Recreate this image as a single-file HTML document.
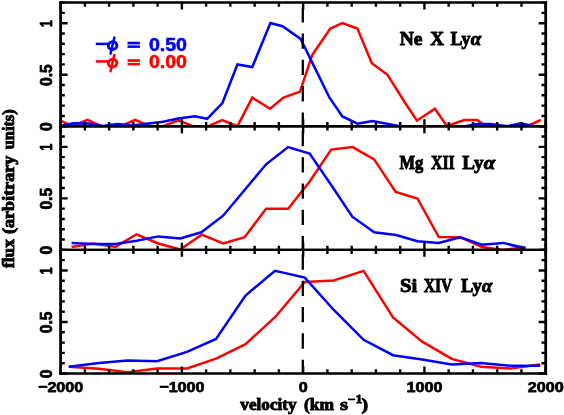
<!DOCTYPE html><html><head><meta charset="utf-8"><title>Line profiles</title>
<style>html,body{margin:0;padding:0;background:#fff;overflow:hidden;}svg{display:block;position:absolute;left:0;top:0;}text{font-family:"Liberation Sans",sans-serif;font-weight:bold;fill:#000;stroke:#000;stroke-width:0.5;stroke-linejoin:round;}.se{font-family:"Liberation Serif",serif;font-weight:bold;stroke-width:0.9;}</style></head><body>
<svg width="564" height="415" viewBox="0 0 564 415">
<rect width="564" height="415" fill="#fff"/>
<defs><filter id="sb" x="-5%" y="-5%" width="110%" height="110%"><feGaussianBlur stdDeviation="0.3"/></filter></defs>
<clipPath id="c0"><rect x="60.6" y="2.60" width="485.10" height="123.63"/></clipPath>
<clipPath id="c1"><rect x="60.6" y="126.23" width="485.10" height="123.63"/></clipPath>
<clipPath id="c2"><rect x="60.6" y="249.86" width="485.10" height="123.63"/></clipPath>
<g clip-path="url(#c0)">
<polyline points="60.6,120.5 72.0,126.2 87.5,119.9 101.5,126.2 121.0,126.2 135.1,119.9 150.0,126.2 163.3,126.2 178.3,120.4 193.0,126.2 208.5,126.2 222.1,120.2 237.4,126.2 252.3,97.6 270.0,108.8 283.5,97.5 300.0,91.6 312.2,55.0 330.3,28.6 342.4,23.1 357.4,28.6 371.8,63.3 387.5,74.8 405.2,103.0 417.0,120.6 435.0,108.8 446.8,126.0 464.4,120.0 477.1,120.0 486.0,126.2 527.0,126.2 541.0,120.0" fill="none" stroke="#ff0000" stroke-width="2.5" stroke-linejoin="miter" stroke-miterlimit="3" stroke-linecap="butt"/>
<polyline points="60.6,125.8 73.6,123.3 88.5,123.5 102.8,126.0 117.0,124.0 132.4,125.4 163.0,121.8 178.3,118.6 194.9,116.3 207.1,118.8 222.4,103.0 237.4,64.5 252.3,67.0 270.4,23.1 282.5,26.2 300.6,38.9 329.2,97.1 342.4,116.4 357.4,123.7 372.2,121.1 400.0,126.2 465.0,126.2 477.0,123.9 490.7,123.9 507.3,126.2 521.0,123.3 533.6,126.2 545.7,126.2" fill="none" stroke="#0000ff" stroke-width="2.5" stroke-linejoin="miter" stroke-miterlimit="3" stroke-linecap="butt"/>
<path d="M302.80,7.20V22.50M302.80,33.50V48.80M302.80,59.80V75.10M302.80,86.10V101.40M302.80,112.40V126.23" stroke="#000" stroke-width="2.3" fill="none"/>
</g>
<g clip-path="url(#c1)">
<polyline points="71.6,246.9 93.2,243.5 115.5,246.9 136.5,234.3 158.3,243.5 180.2,249.5 201.7,234.6 223.1,243.4 244.6,237.2 266.1,208.7 288.1,208.7 309.5,181.8 331.2,149.6 352.7,147.1 374.1,159.4 395.7,192.0 417.4,198.5 438.8,237.1 460.2,237.2 482.0,247.0 503.0,250.0 525.4,247.2" fill="none" stroke="#ff0000" stroke-width="2.5" stroke-linejoin="miter" stroke-miterlimit="3" stroke-linecap="butt"/>
<polyline points="71.6,243.0 93.3,244.0 115.2,244.0 136.7,240.8 158.3,236.4 180.2,238.5 201.3,232.3 223.1,215.7 244.6,190.0 266.1,164.3 288.1,147.1 309.6,153.5 331.2,185.0 352.3,216.7 374.2,232.3 396.1,235.0 417.5,241.3 438.7,243.0 460.1,237.4 482.0,244.7 503.0,242.9 525.4,248.3" fill="none" stroke="#0000ff" stroke-width="2.5" stroke-linejoin="miter" stroke-miterlimit="3" stroke-linecap="butt"/>
<path d="M302.80,130.83V146.13M302.80,157.13V172.43M302.80,183.43V198.73M302.80,209.73V225.03M302.80,236.03V249.86" stroke="#000" stroke-width="2.3" fill="none"/>
</g>
<g clip-path="url(#c2)">
<polyline points="68.8,366.7 99.0,368.8 127.5,372.3 157.0,368.4 187.0,368.4 216.0,358.6 245.5,344.1 275.0,317.2 304.8,281.9 333.8,280.5 363.6,270.9 393.0,317.4 422.2,341.7 451.7,358.9 481.0,366.7 510.2,368.6 540.2,364.4" fill="none" stroke="#ff0000" stroke-width="2.5" stroke-linejoin="miter" stroke-miterlimit="3" stroke-linecap="butt"/>
<polyline points="68.8,366.7 99.0,363.0 127.5,360.6 157.0,361.3 187.0,351.9 216.0,338.9 245.5,295.5 275.0,270.9 304.8,277.6 333.8,310.0 363.6,339.8 393.0,355.2 422.2,359.5 451.7,364.4 481.0,363.0 510.2,365.7 540.2,365.7" fill="none" stroke="#0000ff" stroke-width="2.5" stroke-linejoin="miter" stroke-miterlimit="3" stroke-linecap="butt"/>
<path d="M302.80,254.46V269.76M302.80,280.76V296.06M302.80,307.06V322.36M302.80,333.36V348.66M302.80,359.66V373.49" stroke="#000" stroke-width="2.3" fill="none"/>
</g>
<path d="M60.6,1.40V127.43M545.7,1.40V127.43" fill="none" stroke="#000" stroke-width="2.8"/>
<path d="M59.2,2.60H547.1M59.2,126.23H547.1" fill="none" stroke="#000" stroke-width="2.45"/>
<path d="M60.60,2.60v7.0M60.60,126.23v-7.0M84.86,2.60v4.2M84.86,126.23v-4.2M109.11,2.60v4.2M109.11,126.23v-4.2M133.37,2.60v4.2M133.37,126.23v-4.2M157.62,2.60v4.2M157.62,126.23v-4.2M181.88,2.60v7.0M181.88,126.23v-7.0M206.13,2.60v4.2M206.13,126.23v-4.2M230.38,2.60v4.2M230.38,126.23v-4.2M254.64,2.60v4.2M254.64,126.23v-4.2M278.90,2.60v4.2M278.90,126.23v-4.2M303.15,2.60v7.0M303.15,126.23v-7.0M327.41,2.60v4.2M327.41,126.23v-4.2M351.66,2.60v4.2M351.66,126.23v-4.2M375.92,2.60v4.2M375.92,126.23v-4.2M400.17,2.60v4.2M400.17,126.23v-4.2M424.43,2.60v7.0M424.43,126.23v-7.0M448.68,2.60v4.2M448.68,126.23v-4.2M472.94,2.60v4.2M472.94,126.23v-4.2M497.19,2.60v4.2M497.19,126.23v-4.2M521.45,2.60v4.2M521.45,126.23v-4.2M545.70,2.60v7.0M545.70,126.23v-7.0M60.6,126.23h7.0M545.7,126.23h-7.0M60.6,115.93h4.2M545.7,115.93h-4.2M60.6,105.62h4.2M545.7,105.62h-4.2M60.6,95.32h4.2M545.7,95.32h-4.2M60.6,85.02h4.2M545.7,85.02h-4.2M60.6,74.72h7.0M545.7,74.72h-7.0M60.6,64.41h4.2M545.7,64.41h-4.2M60.6,54.11h4.2M545.7,54.11h-4.2M60.6,43.81h4.2M545.7,43.81h-4.2M60.6,33.51h4.2M545.7,33.51h-4.2M60.6,23.20h7.0M545.7,23.20h-7.0M60.6,12.90h4.2M545.7,12.90h-4.2M60.6,2.60h4.2M545.7,2.60h-4.2" stroke="#000" stroke-width="2.4" fill="none"/>
<path d="M60.6,125.03V251.06M545.7,125.03V251.06" fill="none" stroke="#000" stroke-width="2.8"/>
<path d="M59.2,126.23H547.1M59.2,249.86H547.1" fill="none" stroke="#000" stroke-width="2.45"/>
<path d="M60.60,126.23v7.0M60.60,249.86v-7.0M84.86,126.23v4.2M84.86,249.86v-4.2M109.11,126.23v4.2M109.11,249.86v-4.2M133.37,126.23v4.2M133.37,249.86v-4.2M157.62,126.23v4.2M157.62,249.86v-4.2M181.88,126.23v7.0M181.88,249.86v-7.0M206.13,126.23v4.2M206.13,249.86v-4.2M230.38,126.23v4.2M230.38,249.86v-4.2M254.64,126.23v4.2M254.64,249.86v-4.2M278.90,126.23v4.2M278.90,249.86v-4.2M303.15,126.23v7.0M303.15,249.86v-7.0M327.41,126.23v4.2M327.41,249.86v-4.2M351.66,126.23v4.2M351.66,249.86v-4.2M375.92,126.23v4.2M375.92,249.86v-4.2M400.17,126.23v4.2M400.17,249.86v-4.2M424.43,126.23v7.0M424.43,249.86v-7.0M448.68,126.23v4.2M448.68,249.86v-4.2M472.94,126.23v4.2M472.94,249.86v-4.2M497.19,126.23v4.2M497.19,249.86v-4.2M521.45,126.23v4.2M521.45,249.86v-4.2M545.70,126.23v7.0M545.70,249.86v-7.0M60.6,249.86h7.0M545.7,249.86h-7.0M60.6,239.56h4.2M545.7,239.56h-4.2M60.6,229.25h4.2M545.7,229.25h-4.2M60.6,218.95h4.2M545.7,218.95h-4.2M60.6,208.65h4.2M545.7,208.65h-4.2M60.6,198.35h7.0M545.7,198.35h-7.0M60.6,188.04h4.2M545.7,188.04h-4.2M60.6,177.74h4.2M545.7,177.74h-4.2M60.6,167.44h4.2M545.7,167.44h-4.2M60.6,157.14h4.2M545.7,157.14h-4.2M60.6,146.83h7.0M545.7,146.83h-7.0M60.6,136.53h4.2M545.7,136.53h-4.2M60.6,126.23h4.2M545.7,126.23h-4.2" stroke="#000" stroke-width="2.4" fill="none"/>
<path d="M60.6,248.66V374.69M545.7,248.66V374.69" fill="none" stroke="#000" stroke-width="2.8"/>
<path d="M59.2,249.86H547.1M59.2,373.49H547.1" fill="none" stroke="#000" stroke-width="2.45"/>
<path d="M60.60,249.86v7.0M60.60,373.49v-7.0M84.86,249.86v4.2M84.86,373.49v-4.2M109.11,249.86v4.2M109.11,373.49v-4.2M133.37,249.86v4.2M133.37,373.49v-4.2M157.62,249.86v4.2M157.62,373.49v-4.2M181.88,249.86v7.0M181.88,373.49v-7.0M206.13,249.86v4.2M206.13,373.49v-4.2M230.38,249.86v4.2M230.38,373.49v-4.2M254.64,249.86v4.2M254.64,373.49v-4.2M278.90,249.86v4.2M278.90,373.49v-4.2M303.15,249.86v7.0M303.15,373.49v-7.0M327.41,249.86v4.2M327.41,373.49v-4.2M351.66,249.86v4.2M351.66,373.49v-4.2M375.92,249.86v4.2M375.92,373.49v-4.2M400.17,249.86v4.2M400.17,373.49v-4.2M424.43,249.86v7.0M424.43,373.49v-7.0M448.68,249.86v4.2M448.68,373.49v-4.2M472.94,249.86v4.2M472.94,373.49v-4.2M497.19,249.86v4.2M497.19,373.49v-4.2M521.45,249.86v4.2M521.45,373.49v-4.2M545.70,249.86v7.0M545.70,373.49v-7.0M60.6,373.49h7.0M545.7,373.49h-7.0M60.6,363.19h4.2M545.7,363.19h-4.2M60.6,352.88h4.2M545.7,352.88h-4.2M60.6,342.58h4.2M545.7,342.58h-4.2M60.6,332.28h4.2M545.7,332.28h-4.2M60.6,321.98h7.0M545.7,321.98h-7.0M60.6,311.68h4.2M545.7,311.68h-4.2M60.6,301.37h4.2M545.7,301.37h-4.2M60.6,291.07h4.2M545.7,291.07h-4.2M60.6,280.77h4.2M545.7,280.77h-4.2M60.6,270.47h7.0M545.7,270.47h-7.0M60.6,260.16h4.2M545.7,260.16h-4.2M60.6,249.86h4.2M545.7,249.86h-4.2" stroke="#000" stroke-width="2.4" fill="none"/>
<g filter="url(#sb)">
<text transform="translate(51.7,130.97) rotate(-90)" font-size="15.6" textLength="8.7" lengthAdjust="spacingAndGlyphs" style="stroke-width:0.75">0</text>
<text transform="translate(51.7,85.96) rotate(-90)" font-size="15.6" textLength="21.7" lengthAdjust="spacingAndGlyphs" style="stroke-width:0.75">0.5</text>
<text transform="translate(51.7,26.99) rotate(-90)" font-size="15.6" textLength="6.8" lengthAdjust="spacingAndGlyphs" style="stroke-width:0.75">1</text>
<text transform="translate(51.7,254.60) rotate(-90)" font-size="15.6" textLength="8.7" lengthAdjust="spacingAndGlyphs" style="stroke-width:0.75">0</text>
<text transform="translate(51.7,209.59) rotate(-90)" font-size="15.6" textLength="21.7" lengthAdjust="spacingAndGlyphs" style="stroke-width:0.75">0.5</text>
<text transform="translate(51.7,150.62) rotate(-90)" font-size="15.6" textLength="6.8" lengthAdjust="spacingAndGlyphs" style="stroke-width:0.75">1</text>
<text transform="translate(51.7,378.23) rotate(-90)" font-size="15.6" textLength="8.7" lengthAdjust="spacingAndGlyphs" style="stroke-width:0.75">0</text>
<text transform="translate(51.7,333.22) rotate(-90)" font-size="15.6" textLength="21.7" lengthAdjust="spacingAndGlyphs" style="stroke-width:0.75">0.5</text>
<text transform="translate(51.7,274.25) rotate(-90)" font-size="15.6" textLength="6.8" lengthAdjust="spacingAndGlyphs" style="stroke-width:0.75">1</text>
<text x="37.97" y="392.0" font-size="15.5" textLength="45.3" lengthAdjust="spacingAndGlyphs" style="stroke-width:0.75">−2000</text>
<text x="159.24" y="392.0" font-size="15.5" textLength="45.3" lengthAdjust="spacingAndGlyphs" style="stroke-width:0.75">−1000</text>
<text x="298.67" y="392.0" font-size="15.5" textLength="9.0" lengthAdjust="spacingAndGlyphs" style="stroke-width:0.75">0</text>
<text x="406.50" y="392.0" font-size="15.5" textLength="35.9" lengthAdjust="spacingAndGlyphs" style="stroke-width:0.75">1000</text>
<text x="527.77" y="392.0" font-size="15.5" textLength="35.9" lengthAdjust="spacingAndGlyphs" style="stroke-width:0.75">2000</text>
<text class="se" x="240.3" y="409.6" font-size="16.5" textLength="56.3" lengthAdjust="spacingAndGlyphs">velocity</text>
<text class="se" x="303.9" y="409.6" font-size="16.5" textLength="30.0" lengthAdjust="spacingAndGlyphs">(km</text>
<text class="se" x="340.0" y="409.6" font-size="16.5" textLength="8.0" lengthAdjust="spacingAndGlyphs">s</text>
<text class="se" x="361.6" y="409.6" font-size="16.5" textLength="6.6" lengthAdjust="spacingAndGlyphs">)</text>
<text class="se" x="347.8" y="403.4" font-size="11.5" textLength="14.6" lengthAdjust="spacingAndGlyphs">−1</text>
<text class="se" transform="translate(14.0,268.0) rotate(-90)" font-size="16.5" textLength="28.8" lengthAdjust="spacingAndGlyphs">flux</text>
<text class="se" transform="translate(14.0,233.9) rotate(-90)" font-size="16.5" textLength="78.1" lengthAdjust="spacingAndGlyphs">(arbitrary</text>
<text class="se" transform="translate(14.0,149.2) rotate(-90)" font-size="16.5" textLength="39.8" lengthAdjust="spacingAndGlyphs">units)</text>
<text class="se" x="399.7" y="45.0" font-size="18.6" textLength="22.8" lengthAdjust="spacingAndGlyphs">Ne</text>
<text class="se" x="430.2" y="45.0" font-size="18.6" textLength="13.8" lengthAdjust="spacingAndGlyphs">X</text>
<text class="se" x="450.5" y="45.0" font-size="18.6" textLength="20.0" lengthAdjust="spacingAndGlyphs">Ly</text>
<text class="se" x="470.8" y="45.0" font-size="19" font-style="italic" textLength="10.5" lengthAdjust="spacingAndGlyphs">α</text>
<text class="se" x="399.4" y="168.6" font-size="18.6" textLength="23.8" lengthAdjust="spacingAndGlyphs">Mg</text>
<text class="se" x="431.0" y="168.6" font-size="18.6" textLength="23.8" lengthAdjust="spacingAndGlyphs">XII</text>
<text class="se" x="462.3" y="168.6" font-size="18.6" textLength="21.2" lengthAdjust="spacingAndGlyphs">Ly</text>
<text class="se" x="483.8" y="168.6" font-size="19" font-style="italic" textLength="11.5" lengthAdjust="spacingAndGlyphs">α</text>
<text class="se" x="399.9" y="292.3" font-size="18.6" textLength="17.3" lengthAdjust="spacingAndGlyphs">Si</text>
<text class="se" x="423.7" y="292.3" font-size="18.6" textLength="28.7" lengthAdjust="spacingAndGlyphs">XIV</text>
<text class="se" x="461.0" y="292.3" font-size="18.6" textLength="20.8" lengthAdjust="spacingAndGlyphs">Ly</text>
<text class="se" x="482.1" y="292.3" font-size="19" font-style="italic" textLength="10.3" lengthAdjust="spacingAndGlyphs">α</text>
<g transform="translate(0,0)" fill="#0000ff" stroke="#0000ff">
<path d="M95.8,43.9H108.5" stroke-width="2.5" fill="none"/>
<ellipse cx="112.6" cy="45.6" rx="4.3" ry="3.85" transform="rotate(-12 112.6 45.6)" fill="none" stroke-width="2.9"/>
<path d="M114.4,37.4L110.5,53.7" stroke-width="2.5" stroke-linecap="round" fill="none"/>
<rect x="127.5" y="41.7" width="12.4" height="2.7" stroke="none"/><rect x="127.5" y="45.4" width="12.4" height="2.5" stroke="none"/>
<text x="148.9" y="50.5" font-size="19.2" style="fill:#0000ff;stroke:#0000ff;stroke-width:0.6" textLength="38.1" lengthAdjust="spacingAndGlyphs">0.50</text>
</g>
<g transform="translate(0,17.5)" fill="#ff0000" stroke="#ff0000">
<path d="M95.8,43.9H108.5" stroke-width="2.5" fill="none"/>
<ellipse cx="112.6" cy="45.6" rx="4.3" ry="3.85" transform="rotate(-12 112.6 45.6)" fill="none" stroke-width="2.9"/>
<path d="M114.4,37.4L110.5,53.7" stroke-width="2.5" stroke-linecap="round" fill="none"/>
<rect x="127.5" y="41.7" width="12.4" height="2.7" stroke="none"/><rect x="127.5" y="45.4" width="12.4" height="2.5" stroke="none"/>
<text x="148.9" y="50.2" font-size="19.2" style="fill:#ff0000;stroke:#ff0000;stroke-width:0.6" textLength="38.1" lengthAdjust="spacingAndGlyphs">0.00</text>
</g>
</g>
</svg></body></html>
